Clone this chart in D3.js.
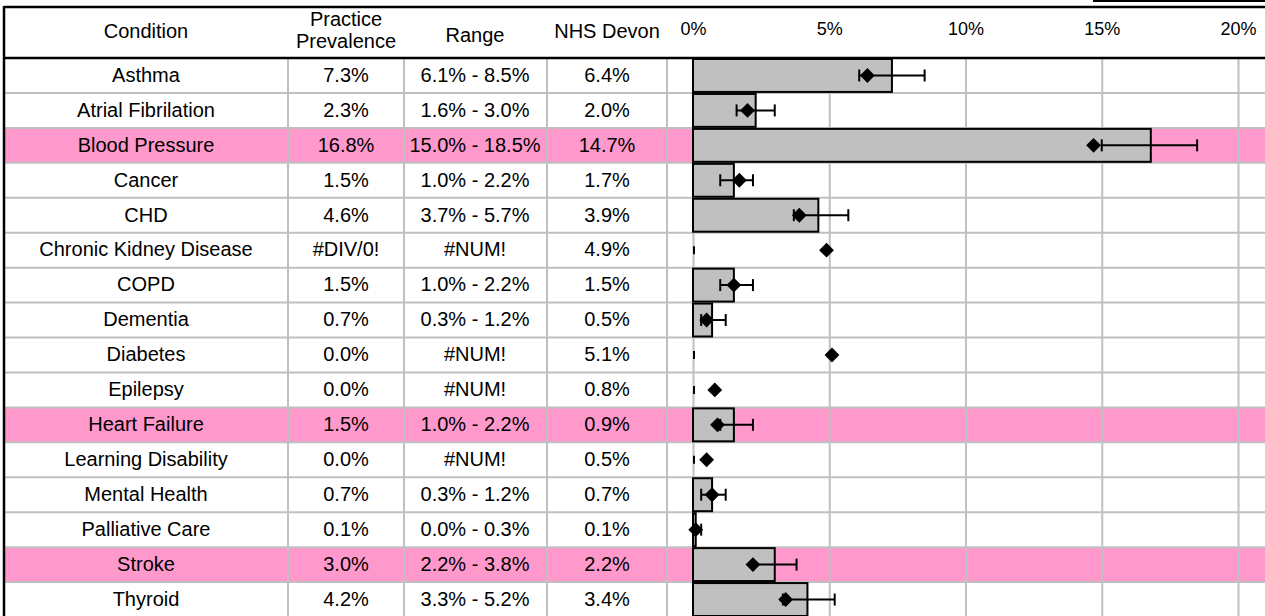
<!DOCTYPE html>
<html>
<head>
<meta charset="utf-8">
<script src="https://cdn.jsdelivr.net/npm/d3@7"></script>
<style>
body{margin:0;background:#fff}
text{font-family:"Liberation Sans", Arial, sans-serif;fill:#000}
</style>
</head>
<body>
<div id="chart"></div>
<script>
var conditions=["Asthma","Atrial Fibrilation","Blood Pressure","Cancer","CHD","Chronic Kidney Disease","COPD","Dementia","Diabetes","Epilepsy","Heart Failure","Learning Disability","Mental Health","Palliative Care","Stroke","Thyroid"]
var prevalence=[7.3,2.3,16.8,1.5,4.6,null,1.5,0.7,0.0,0.0,1.5,0.0,0.7,0.1,3.0,4.2]
var rangeLow=[6.1,1.6,15.0,1.0,3.7,null,1.0,0.3,null,null,1.0,null,0.3,0.0,2.2,3.3]
var rangeHigh=[8.5,3.0,18.5,2.2,5.7,null,2.2,1.2,null,null,2.2,null,1.2,0.3,3.8,5.2]
var nhsDevon=[6.4,2.0,14.7,1.7,3.9,4.9,1.5,0.5,5.1,0.8,0.9,0.5,0.7,0.1,2.2,3.4]
var highlighted=["Blood Pressure","Heart Failure","Stroke"]
var xTicks=[0,5,10,15,20]

var svgWidth=1265
var svgHeight=616
var tableLeft=4
var tableTop=7
var headerBottom=58
var colEdges=[4,288,404,547,667]

var data=conditions.map((c,i)=>({
    condition:c,
    prev:prevalence[i],
    lo:rangeLow[i],
    hi:rangeHigh[i],
    devon:nhsDevon[i]
}))

var svg=d3.select("#chart")
        .append("svg")
        .attr("width", svgWidth)
        .attr("height", svgHeight)

var yScale=d3.scaleBand()
    .domain(conditions)
    .range([headerBottom, 617])
    .paddingInner(0)

var xScale=d3.scaleLinear()
    .domain([0,20])
    .range([693,1238])

var fmt=d=>d.toFixed(1)+"%"

// pink highlight rows
svg.selectAll("rect.hl")
    .data(data.filter(d=>highlighted.includes(d.condition)))
    .enter()
    .append("rect")
    .attr("x", tableLeft)
    .attr("y", d=>yScale(d.condition))
    .attr("width", svgWidth-tableLeft)
    .attr("height", yScale.bandwidth())
    .attr("fill", "#FF99CC")

// row lines
svg.selectAll("line.row")
    .data(conditions.slice(1))
    .enter()
    .append("line")
    .attr("x1", tableLeft)
    .attr("x2", svgWidth)
    .attr("y1", d=>yScale(d))
    .attr("y2", d=>yScale(d))
    .attr("stroke", "#C0C0C0")
    .attr("stroke-width", 2)

// column lines
svg.selectAll("line.col")
    .data(colEdges.slice(1))
    .enter()
    .append("line")
    .attr("x1", d=>d)
    .attr("x2", d=>d)
    .attr("y1", headerBottom)
    .attr("y2", svgHeight)
    .attr("stroke", "#C0C0C0")
    .attr("stroke-width", 2)

// grid
var grid=svg.append("g")
    .attr("transform", `translate(0, ${headerBottom})`)
    .call(d3.axisBottom(xScale).tickValues(xTicks).tickSize(svgHeight-headerBottom).tickFormat(""))
grid.select(".domain").remove()
grid.selectAll(".tick line").attr("stroke", "#C0C0C0").attr("stroke-width", 2)

// axis labels
var topAxis=svg.append("g")
    .attr("transform", `translate(0, 38)`)
    .call(d3.axisTop(xScale).tickValues(xTicks).tickSize(0).tickFormat(d=>d+"%"))
topAxis.select(".domain").remove()
topAxis.selectAll("text").attr("font-size", 18).attr("font-family", "Liberation Sans, Arial, sans-serif")

// bars
svg.selectAll("rect.bar")
    .data(data)
    .enter()
    .append("rect")
    .attr("x", xScale(0))
    .attr("y", d=>yScale(d.condition)+1)
    .attr("width", d=>xScale(d.prev||0)-xScale(0))
    .attr("height", yScale.bandwidth()-2)
    .attr("fill", d=>d.prev? "#C0C0C0":"none")
    .attr("stroke", d=>d.prev? "black":"none")
    .attr("stroke-width", 2)

var mid=d=>yScale(d.condition)+yScale.bandwidth()/2

// error bars
var errGroup=svg.selectAll("g.err")
    .data(data)
    .enter()
    .append("g")
    .attr("stroke", "black")
    .attr("stroke-width", 2)

errGroup.filter(d=>d.lo!==null)
    .append("line")
    .attr("x1", d=>xScale(d.lo))
    .attr("x2", d=>xScale(d.hi))
    .attr("y1", mid)
    .attr("y2", mid)

errGroup.filter(d=>d.lo!==null)
    .append("line")
    .attr("x1", d=>xScale(d.lo))
    .attr("x2", d=>xScale(d.lo))
    .attr("y1", d=>mid(d)-6)
    .attr("y2", d=>mid(d)+6)

errGroup.filter(d=>d.lo!==null)
    .append("line")
    .attr("x1", d=>xScale(d.hi))
    .attr("x2", d=>xScale(d.hi))
    .attr("y1", d=>mid(d)-6)
    .attr("y2", d=>mid(d)+6)

// #NUM! rows leave a zero-length marker at 0
errGroup.filter(d=>d.lo===null)
    .append("line")
    .attr("x1", xScale(0)+1)
    .attr("x2", xScale(0)+1)
    .attr("y1", d=>mid(d)-4)
    .attr("y2", d=>mid(d)+4)

// NHS Devon diamonds
svg.selectAll("path.dia")
    .data(data)
    .enter()
    .append("path")
    .attr("d", d3.symbol(d3.symbolSquare, 110))
    .attr("transform", d=>`translate(${xScale(d.devon)}, ${mid(d)}) rotate(45)`)
    .attr("fill", "black")

// table text
var cols=[
    {x:146, val:d=>d.condition},
    {x:346, val:d=>d.prev===null? "#DIV/0!":fmt(d.prev)},
    {x:475, val:d=>d.lo===null? "#NUM!":fmt(d.lo)+" - "+fmt(d.hi)},
    {x:607, val:d=>fmt(d.devon)}
]
cols.forEach(c=>{
    svg.selectAll(null)
        .data(data)
        .enter()
        .append("text")
        .attr("x", c.x)
        .attr("y", d=>mid(d)+1)
        .attr("text-anchor", "middle")
        .attr("dominant-baseline", "middle")
        .attr("font-size", 20)
        .text(c.val)
})

// header
var headers=[
    {x:146, y:33, t:"Condition"},
    {x:346, y:21, t:"Practice"},
    {x:346, y:43, t:"Prevalence"},
    {x:475, y:37, t:"Range"},
    {x:607, y:33, t:"NHS Devon"}
]
svg.selectAll("text.head")
    .data(headers)
    .enter()
    .append("text")
    .attr("x", d=>d.x)
    .attr("y", d=>d.y)
    .attr("text-anchor", "middle")
    .attr("dominant-baseline", "middle")
    .attr("font-size", 20)
    .text(d=>d.t)

// borders
svg.append("line").attr("x1", tableLeft).attr("x2", svgWidth).attr("y1", tableTop).attr("y2", tableTop)
    .attr("stroke", "black").attr("stroke-width", 2.5)
svg.append("line").attr("x1", tableLeft).attr("x2", svgWidth).attr("y1", headerBottom).attr("y2", headerBottom)
    .attr("stroke", "black").attr("stroke-width", 2.5)
svg.append("line").attr("x1", tableLeft).attr("x2", tableLeft).attr("y1", tableTop-1).attr("y2", svgHeight)
    .attr("stroke", "black").attr("stroke-width", 2.5)
svg.append("line").attr("x1", 1093).attr("x2", svgWidth).attr("y1", 1).attr("y2", 1)
    .attr("stroke", "black").attr("stroke-width", 2)
</script>
</body>
</html>
